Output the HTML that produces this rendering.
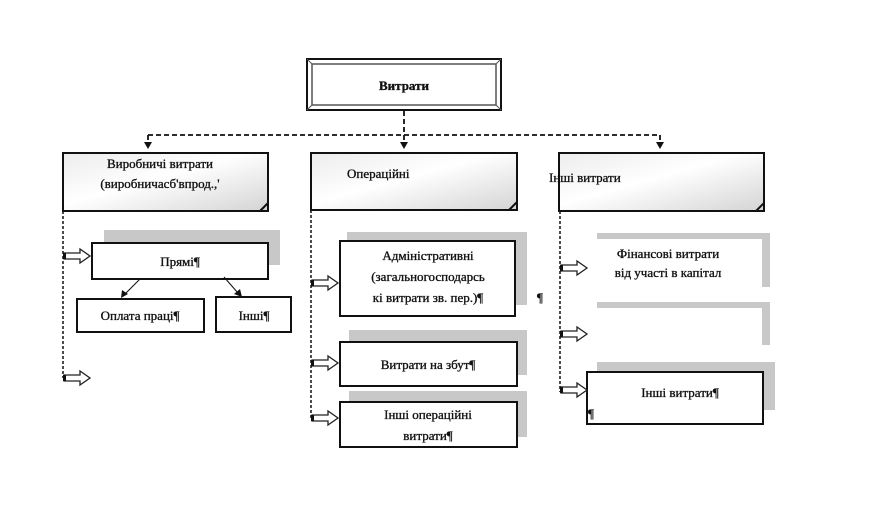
<!DOCTYPE html>
<html><head><meta charset="utf-8"><style>
html,body{margin:0;padding:0;background:#fff;}
svg{display:block;}
text{font-family:"Liberation Serif",serif;font-size:13px;fill:#111;stroke:#111;stroke-width:0.35px;}
</style></head><body>
<svg width="888" height="526" viewBox="0 0 888 526" xmlns="http://www.w3.org/2000/svg">
<defs>
<linearGradient id="g" x1="0" y1="0" x2="1" y2="1">
<stop offset="0" stop-color="#ececec"/><stop offset="0.45" stop-color="#ffffff"/><stop offset="1" stop-color="#d4d4d4"/>
</linearGradient>
<g id="ar">
<path d="M0,-3 L16,-3 L16,-7 L26,0 L16,7 L16,3 L0,3 Z" fill="#fff" stroke="#222" stroke-width="1.3"/>
<rect x="-1" y="-3" width="3" height="6" fill="#111"/>
</g>
</defs>
<rect x="307" y="59" width="194" height="51" fill="#fff" stroke="#111" stroke-width="2"/>
<rect x="312" y="64" width="184" height="41" fill="#fff" stroke="#555" stroke-width="1.5"/>
<line x1="307" y1="59" x2="312" y2="64" stroke="#555"/><line x1="501" y1="59" x2="496" y2="64" stroke="#555"/>
<line x1="307" y1="110" x2="312" y2="105" stroke="#555"/><line x1="501" y1="110" x2="496" y2="105" stroke="#555"/>
<text x="404" y="90" text-anchor="middle" font-weight="bold">Витрати</text>
<g stroke="#111" stroke-width="1.8" stroke-dasharray="5,3" fill="none">
<line x1="404" y1="111" x2="404" y2="143"/>
<line x1="148" y1="135" x2="660" y2="135"/>
<line x1="148" y1="135" x2="148" y2="143"/>
<line x1="660" y1="135" x2="660" y2="143"/>
</g>
<g stroke="#111" stroke-width="1.5" stroke-dasharray="3,2" fill="none">
<line x1="63" y1="211" x2="63" y2="378"/>
<line x1="311" y1="210" x2="311" y2="420"/>
<line x1="560" y1="211" x2="560" y2="392"/>
</g>
<path d="M144,142 L152,142 L148,149 Z M400,142 L408,142 L404,149 Z M656,142 L664,142 L660,149 Z" fill="#111"/>
<rect x="63" y="153" width="205" height="58" fill="url(#g)" stroke="#111" stroke-width="2"/>
<path d="M260,211 L268,203" stroke="#111" stroke-width="2"/>
<text x="160" y="168" text-anchor="middle">Виробничі витрати</text>
<text x="160" y="188" text-anchor="middle">(виробничасб'впрод.,'</text>
<rect x="311" y="153" width="206" height="57" fill="url(#g)" stroke="#111" stroke-width="2"/>
<path d="M509,210 L517,202" stroke="#111" stroke-width="2"/>
<text x="347" y="178">Операційні</text>
<rect x="559" y="153" width="205" height="58" fill="url(#g)" stroke="#111" stroke-width="2"/>
<path d="M756,211 L764,203" stroke="#111" stroke-width="2"/>
<text x="549" y="182">Інші витрати</text>
<rect x="104" y="230" width="176" height="35" fill="#c8c8c8"/>
<rect x="92" y="243" width="176" height="36" fill="#fff" stroke="#111" stroke-width="2"/>
<text x="180" y="266" text-anchor="middle">Прямі¶</text>
<rect x="77" y="299" width="127" height="33" fill="#fff" stroke="#111" stroke-width="2"/>
<text x="140" y="320" text-anchor="middle">Оплата праці¶</text>
<rect x="216" y="297" width="75" height="35" fill="#fff" stroke="#111" stroke-width="2"/>
<text x="254" y="320" text-anchor="middle">Інші¶</text>
<line x1="140" y1="279" x2="125" y2="294" stroke="#111"/>
<path d="M121,298 L122,290 L128,294 Z" fill="#111"/>
<line x1="224" y1="277" x2="238" y2="293" stroke="#111"/>
<path d="M242,297 L234,294 L240,289 Z" fill="#111"/>
<use href="#ar" x="64" y="256"/>
<use href="#ar" x="64" y="378"/>
<rect x="347" y="232" width="180" height="73" fill="#c8c8c8"/>
<rect x="340" y="241" width="175" height="75" fill="#fff" stroke="#111" stroke-width="2"/>
<text x="428" y="260" text-anchor="middle">Адміністративні</text>
<text x="428" y="281" text-anchor="middle">(загальногосподарсь</text>
<text x="428" y="302" text-anchor="middle">кі витрати зв. пер.)¶</text>
<text x="537" y="302">¶</text>
<use href="#ar" x="312" y="283"/>
<rect x="349" y="330" width="178" height="45" fill="#c8c8c8"/>
<rect x="340" y="342" width="177" height="44" fill="#fff" stroke="#111" stroke-width="2"/>
<text x="428" y="369" text-anchor="middle">Витрати на збут¶</text>
<use href="#ar" x="312" y="363"/>
<rect x="349" y="391" width="178" height="46" fill="#c8c8c8"/>
<rect x="340" y="402" width="177" height="45" fill="#fff" stroke="#111" stroke-width="2"/>
<text x="428" y="419" text-anchor="middle">Інші операційні</text>
<text x="428" y="440" text-anchor="middle">витрати¶</text>
<use href="#ar" x="312" y="418"/>
<path d="M597,233 L770,233 L770,287 L762,287 L762,239 L597,239 Z" fill="#c8c8c8"/>
<text x="668" y="258" text-anchor="middle">Фінансові витрати</text>
<text x="668" y="277" text-anchor="middle">від участі в капітал</text>
<use href="#ar" x="561" y="268"/>
<path d="M597,302 L770,302 L770,345 L762,345 L762,308 L597,308 Z" fill="#c8c8c8"/>
<use href="#ar" x="561" y="334"/>
<rect x="597" y="362" width="178" height="48" fill="#c8c8c8"/>
<rect x="587" y="372" width="176" height="52" fill="#fff" stroke="#111" stroke-width="2"/>
<text x="680" y="397" text-anchor="middle">Інші витрати¶</text>
<text x="588" y="418" font-size="11">¶</text>
<use href="#ar" x="561" y="390"/>
</svg>
</body></html>
